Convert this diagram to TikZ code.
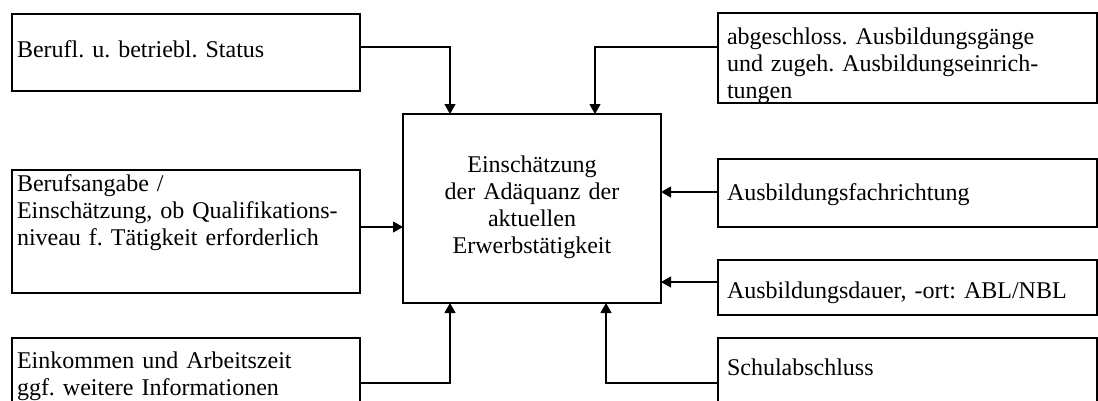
\documentclass[tikz,border=0pt]{standalone}
\usepackage{fontspec}
\setmainfont{Liberation Serif}
\usetikzlibrary{positioning, arrows.meta}
\frenchspacing

\begin{document}
\begin{tikzpicture}[
  x=1pt, y=-1pt,
  font=\fontsize{24}{27}\selectfont,
  box/.style={draw, line width=1.1pt, anchor=north west, outer sep=0pt,
    inner ysep=0pt},
  leftbox/.style={box, align=left, inner xsep=5pt, text width=338pt},
  rightbox/.style={box, align=left, inner xsep=9pt, text width=361pt},
  arrow/.style={-{Triangle[length=10pt, width=11pt]}, line width=1.1pt},
]
  \clip (0,0) rectangle (1098,400);

  % centre
  \node[box, align=center, inner xsep=5pt, text width=248pt,
    text height=58pt, text depth=131pt] (core) at (403,114)
    {Einschätzung \\ der Adäquanz der \\ aktuellen \\ Erwerbstätigkeit};

  % left column
  \node[leftbox, text height=43pt, text depth=34pt] (status) at (12,14)
    {Berufl. u. betriebl. Status};
  \node[leftbox, text height=21pt, text depth=102pt] (beruf) at (12,170)
    {Berufsangabe / \\ Einschätzung, ob Qualifikations- \\
     niveau f. Tätigkeit erforderlich};
  \node[leftbox, text height=30pt, text depth=52pt] (einkommen) at (12,338)
    {Einkommen und Arbeitszeit \\ ggf. weitere Informationen};

  % right column
  \node[rightbox, text height=31pt, text depth=59pt] (abschl) at (718,13)
    {abgeschloss. Ausbildungsgänge \\ und zugeh. Ausbildungseinrich- \\ tungen};
  \node[rightbox, text height=41pt, text depth=27pt] (fach) at (718,159)
    {Ausbildungsfachrichtung};
  \node[rightbox, text height=38pt, text depth=17pt] (dauer) at (718,260)
    {Ausbildungsdauer, -ort: ABL/NBL};
  \node[rightbox, text height=37pt, text depth=45pt] (schule) at (718,338)
    {Schulabschluss};

  \draw[arrow] ([yshift=-33pt]status.north east) -| ([xshift=47pt]core.north west);
  \draw[arrow] ([yshift=-57pt]beruf.north east) -- ([yshift=-57pt]beruf.north east -| core.west);
  \draw[arrow] ([yshift=-45pt]einkommen.north east) -| ([xshift=47pt]core.south west);
  \draw[arrow] ([yshift=-34pt]abschl.north west) -| ([xshift=192pt]core.north west);
  \draw[arrow] ([yshift=-33pt]fach.north west) -- ([yshift=-33pt]fach.north west -| core.east);
  \draw[arrow] ([yshift=-22pt]dauer.north west) -- ([yshift=-22pt]dauer.north west -| core.east);
  \draw[arrow] ([yshift=-45pt]schule.north west) -| ([xshift=203pt]core.south west);
\end{tikzpicture}
\end{document}
